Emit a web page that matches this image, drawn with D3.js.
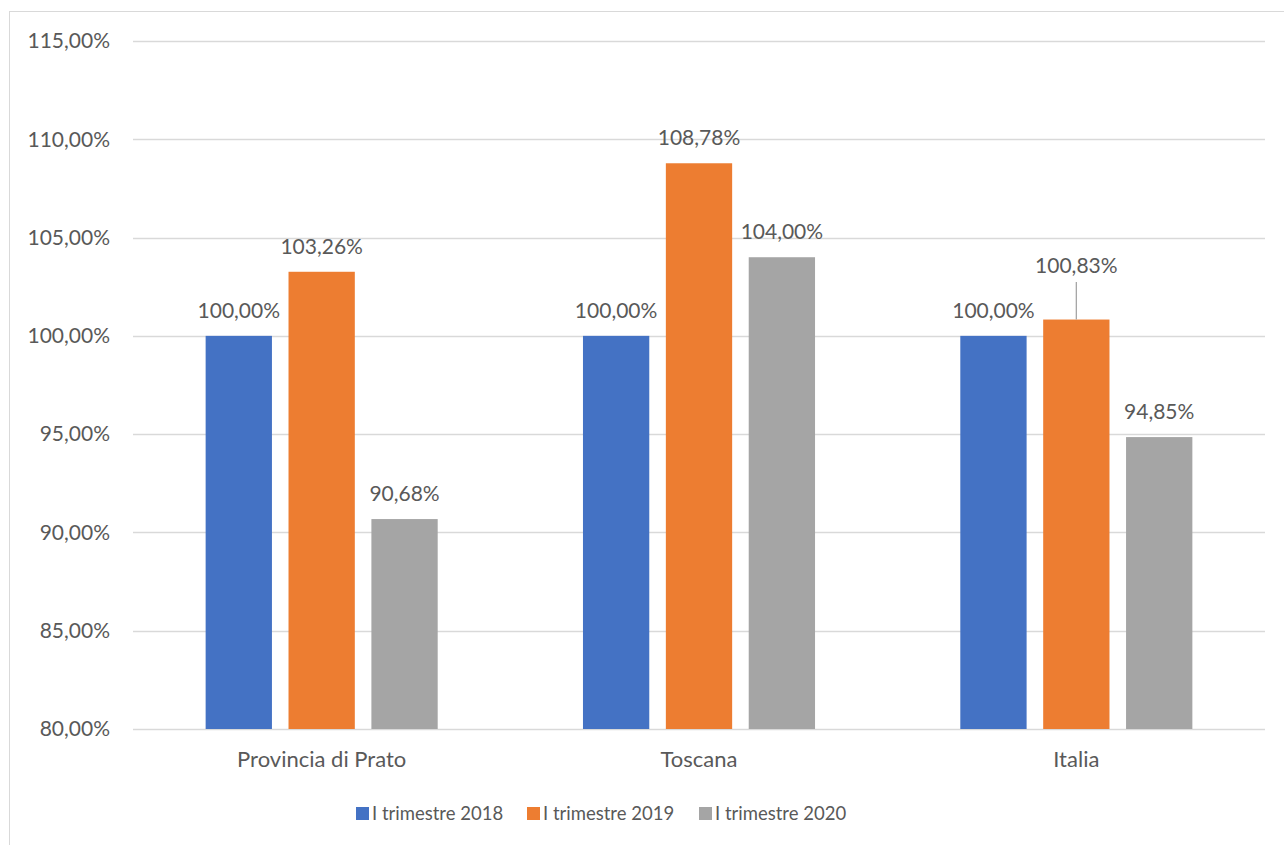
<!DOCTYPE html>
<html><head><meta charset="utf-8">
<script src="https://cdn.jsdelivr.net/npm/d3@7"></script>
<style>
body{margin:0;background:#fff;}
text{font-family:Lato,"Open Sans",sans-serif;fill:#595959;}
</style></head>
<body><svg id="c" width="1284" height="845"></svg>
<script>
const categories = ["Provincia di Prato", "Toscana", "Italia"];
const seriesNames = ["I trimestre 2018", "I trimestre 2019", "I trimestre 2020"];
const s2018 = [100.00, 100.00, 100.00];
const s2019 = [103.26, 108.78, 100.83];
const s2020 = [90.68, 104.00, 94.85];
const yTicks = [80, 85, 90, 95, 100, 105, 110, 115];
const colors = ["#4472C4", "#ED7D31", "#A5A5A5"];
const seriesValues = [s2018, s2019, s2020];

(function(){
const svg = d3.select("#c");
// outer frame
svg.append("rect").attr("x", 9.5).attr("y", 11.5).attr("width", 1290).attr("height", 850)
  .attr("fill", "none").attr("stroke", "#D9D9D9").attr("stroke-width", 1);

const pLeft = 133, pRight = 1265, pTop = 41, pBottom = 729;
const y = d3.scaleLinear().domain([80, 115]).range([pBottom, pTop]);
const x0 = d3.scaleBand().domain(categories).range([pLeft, pRight]).paddingInner(0).paddingOuter(0);
const groupW = x0.bandwidth() * 0.615;
const x1 = d3.scaleBand().domain(d3.range(3)).range([0, groupW]).paddingInner(0.2).paddingOuter(0);

// gridlines
svg.append("g").selectAll("line").data(yTicks).join("line")
  .attr("x1", pLeft).attr("x2", pRight)
  .attr("y1", d => Math.round(y(d)) + 0.5).attr("y2", d => Math.round(y(d)) + 0.5)
  .attr("stroke", "#D9D9D9").attr("stroke-width", 1.3);

// y axis labels
const fmt = v => d3.format(".2f")(v).replace(".", ",") + "%";
svg.append("g").selectAll("text").data(yTicks).join("text")
  .attr("x", 110).attr("y", d => y(d)).attr("dy", "0.35em")
  .attr("text-anchor", "end").attr("font-size", 21).text(d => fmt(d));

// bars
const data = [];
categories.forEach((c, i) => seriesValues.forEach((s, j) => data.push({c, j, v: s[i]})));
const bx = d => x0(d.c) + (x0.bandwidth() - groupW) / 2 + x1(d.j);
svg.append("g").selectAll("rect").data(data).join("rect")
  .attr("x", bx).attr("width", x1.bandwidth())
  .attr("y", d => y(d.v)).attr("height", d => y(80) - y(d.v))
  .attr("fill", d => colors[d.j]);

// data labels
const liftedLabel = {c: "Italia", j: 1, extra: 29};
const labelG = svg.append("g");
data.forEach(d => {
  const cx = bx(d) + x1.bandwidth() / 2;
  const isLifted = d.c === liftedLabel.c && d.j === liftedLabel.j;
  const ly = y(d.v) - 18 - (isLifted ? liftedLabel.extra : 0);
  if (isLifted) {
    labelG.append("line").attr("x1", cx).attr("x2", cx)
      .attr("y1", ly + 9.5).attr("y2", y(d.v))
      .attr("stroke", "#A6A6A6").attr("stroke-width", 1.3);
  }
  labelG.append("text").attr("x", cx).attr("y", ly).attr("text-anchor", "middle")
    .attr("font-size", 21).text(fmt(d.v));
});

// category labels
svg.append("g").selectAll("text").data(categories).join("text")
  .attr("x", d => x0(d) + x0.bandwidth() / 2).attr("y", 759).attr("dy", "0.35em")
  .attr("text-anchor", "middle").attr("font-size", 22).text(d => d);

// legend
const legendX = [356, 527, 699];
const lg = svg.append("g");
seriesNames.forEach((n, j) => {
  lg.append("rect").attr("x", legendX[j]).attr("y", 807).attr("width", 13).attr("height", 13).attr("fill", colors[j]);
  lg.append("text").attr("x", legendX[j] + 16).attr("y", 813.5).attr("dy", "0.35em")
    .attr("font-size", 18.5).text(n);
});
})();
</script></body></html>
